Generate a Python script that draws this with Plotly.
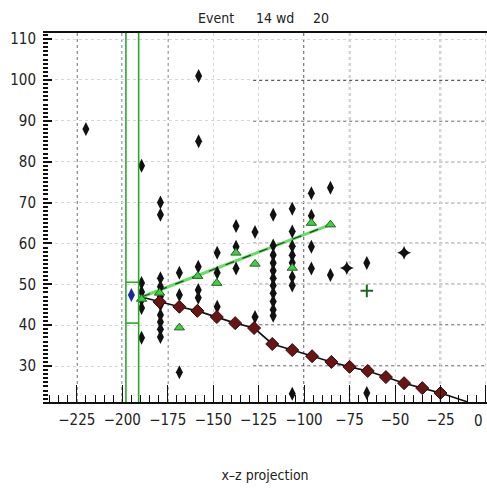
import plotly.graph_objects as go

# ---------------- data ----------------
black_x = [-220, -158, -158, -189.4,
           -189.4, -189.4, -189.4, -189.4, -189.4,
           -179, -179, -179, -179, -179, -179, -179, -179, -179, -179,
           -168.6, -168.6, -168.6,
           -158.2, -158.2, -158.2,
           -147.8, -147.8, -147.8,
           -137.4, -137.4, -137.4,
           -127, -127,
           -117, -117, -117, -117, -117, -117, -117, -117, -117, -117, -117,
           -106.5, -106.5, -106.5, -106.5, -106.5, -106.5, -106.5, -106.5,
           -96, -96, -96, -96,
           -85.5, -85.5,
           -65.5, -65.5]
black_y = [88, 101, 85, 79,
           50.3, 48.1, 46.2, 44.2, 36.9,
           70, 67, 51.5, 49.4, 47, 45, 42.5, 40.8, 39, 37.1,
           52.8, 47.4, 28.5,
           54.3, 48.6, 46.7,
           57.7, 52.8, 44.5,
           64.3, 59.2, 53.9,
           62.8, 42,
           67, 59.5, 57.2, 55.2, 53.3, 51.5, 49.7, 47.8, 45.8, 43.8, 42.3,
           68.5, 62.9, 59.3, 57.1, 55.3, 51.8, 49.7, 23.2,
           72.3, 66.8, 59.2, 53.9,
           73.6, 52.3,
           55.2, 23.4]

cross_x = [-76.5, -45]
cross_y = [54, 57.7]

green_x = [-189.4, -179.5, -168.6, -158.5, -148, -137.5, -127, -106.5, -96, -85.5]
green_y = [46.4, 47.9, 39.4, 52, 50.3, 57.7, 55, 54, 65, 64.6]
green_cross_x = [-65.5]
green_cross_y = [48.4]

red_x = [-179.5, -168.6, -158.7, -148, -137.9, -127.5, -117.5, -106.5, -95.6,
         -85, -75, -65, -55, -45, -35, -25]
red_y = [45.7, 44.5, 43.5, 42, 40.5, 39.3, 35.4, 33.9, 32.4,
         31, 29.8, 28.8, 27.3, 25.8, 24.6, 23.4]

red_line_x = [-189.4] + red_x + [-10]
red_line_y = [46.9] + red_y + [21.2]

green_line_x = [-189.4, -85.5]
green_line_y = [46.9, 64.6]

blue_x = [-195]
blue_y = [47.4]

box_x = [-198, -191]
box_y = [40.5, 50.5]

x_ticks = [-225, -200, -175, -150, -125, -100, -75, -50, -25, 0]
y_ticks = [30, 40, 50, 60, 70, 80, 90, 100, 110]
dark_vgrid = [-225, -200, -175, -100, -75, -25]
hgrid_start = -128

x_range = [-243.6, 0.6]
y_range = [21.2, 111.5]

# ---------------- figure ----------------
fig = go.Figure()

fig.add_trace(go.Scatter(x=red_line_x, y=red_line_y, mode="lines",
                         line=dict(color="#111111", width=1.6), hoverinfo="skip"))
fig.add_trace(go.Scatter(x=green_line_x, y=green_line_y, mode="lines",
                         line=dict(color="#66dd66", width=3), hoverinfo="skip"))
fig.add_trace(go.Scatter(x=green_line_x, y=green_line_y, mode="lines",
                         line=dict(color="#1c4a1c", width=1.2, dash="dash"), hoverinfo="skip"))

fig.add_trace(go.Scatter(x=black_x, y=black_y, mode="markers",
                         marker=dict(symbol="diamond-tall", size=10, color="#111111")))
fig.add_trace(go.Scatter(x=cross_x, y=cross_y, mode="markers",
                         marker=dict(symbol="star-diamond", size=10, color="#111111")))
fig.add_trace(go.Scatter(x=red_x, y=red_y, mode="markers",
                         marker=dict(symbol="diamond", size=10, color="#6a1414",
                                     line=dict(color="#2a0a0a", width=1))))
fig.add_trace(go.Scatter(x=green_x, y=green_y, mode="markers",
                         marker=dict(symbol="triangle-up", size=9, color="#44cc44",
                                     line=dict(color="#1f6a1f", width=1))))
fig.add_trace(go.Scatter(x=green_cross_x, y=green_cross_y, mode="markers",
                         marker=dict(symbol="cross-thin", size=9,
                                     line=dict(color="#226622", width=2))))
fig.add_trace(go.Scatter(x=blue_x, y=blue_y, mode="markers",
                         marker=dict(symbol="diamond-tall", size=10, color="#1a2a9a")))

shapes = []
for bx in box_x:
    shapes.append(dict(type="line", xref="x", yref="paper", x0=bx, x1=bx, y0=0, y1=1,
                       line=dict(color="#2aa82a", width=1.6)))
for by in box_y:
    shapes.append(dict(type="line", xref="x", yref="y", x0=box_x[0], x1=box_x[1], y0=by, y1=by,
                       line=dict(color="#2aa82a", width=1.6)))
for gx in dark_vgrid:
    shapes.append(dict(type="line", xref="x", yref="paper", x0=gx, x1=gx, y0=0, y1=1,
                       line=dict(color="#222222", width=1.3, dash="dot"), layer="below"))
for gy in y_ticks[:-1]:
    shapes.append(dict(type="line", xref="x", yref="y", x0=hgrid_start, x1=x_range[1], y0=gy, y1=gy,
                       line=dict(color="#222222", width=1.3, dash="dot"), layer="below"))

font_family = "Liberation Sans Narrow, DejaVu Sans Condensed, Arial Narrow, sans-serif"

fig.update_layout(
    width=487, height=489,
    margin=dict(l=43, r=0, t=33, b=87),
    paper_bgcolor="white", plot_bgcolor="white",
    showlegend=False,
    shapes=shapes,
    font=dict(family=font_family, size=15, color="#222222"),
    xaxis=dict(range=x_range, tickvals=x_ticks, ticks="inside", ticklen=17, tickwidth=1.3,
               tickcolor="#111111", showline=True, linecolor="#111111", linewidth=2,
               mirror=True, showgrid=True, gridcolor="#d6d6d6", griddash="dot", gridwidth=1,
               zeroline=False, automargin=False, ticklabelstandoff=3,
               minor=dict(dtick=5, tick0=0, ticks="inside", ticklen=7, tickcolor="#111111",
                          showgrid=False),
               title=dict(text="x\u2013z projection", font=dict(size=14), standoff=42)),
    yaxis=dict(range=y_range, tickvals=y_ticks, ticks="inside", ticklen=9, tickwidth=2,
               tickcolor="#111111", showline=False, showgrid=True, gridcolor="#d6d6d6",
               griddash="dot", gridwidth=1, zeroline=False, automargin=False,
               ticklabelstandoff=6,
               minor=dict(dtick=1, tick0=0, ticks="inside", ticklen=5, tickcolor="#111111",
                          showgrid=False)),
    annotations=[
        dict(text="Event", xref="paper", yref="paper", x=(216 - 43) / 444, y=1.0, yshift=25,
             showarrow=False, font=dict(size=14)),
        dict(text="14 wd", xref="paper", yref="paper", x=(275 - 43) / 444, y=1.0, yshift=25,
             showarrow=False, font=dict(size=14)),
        dict(text="20", xref="paper", yref="paper", x=(321 - 43) / 444, y=1.0, yshift=25,
             showarrow=False, font=dict(size=14)),
        # the last tick label, which sits on the right edge
        dict(text=str(x_ticks[-1]), xref="x", yref="paper", x=x_ticks[-1], y=0,
             xanchor="right", yanchor="top", yshift=-8, xshift=-1,
             showarrow=False, font=dict(size=15)),
    ],
)

fig.write_html("out.html", config={"displayModeBar": False},
               post_script="document.body.style.margin='0';document.body.style.overflow='hidden';")
